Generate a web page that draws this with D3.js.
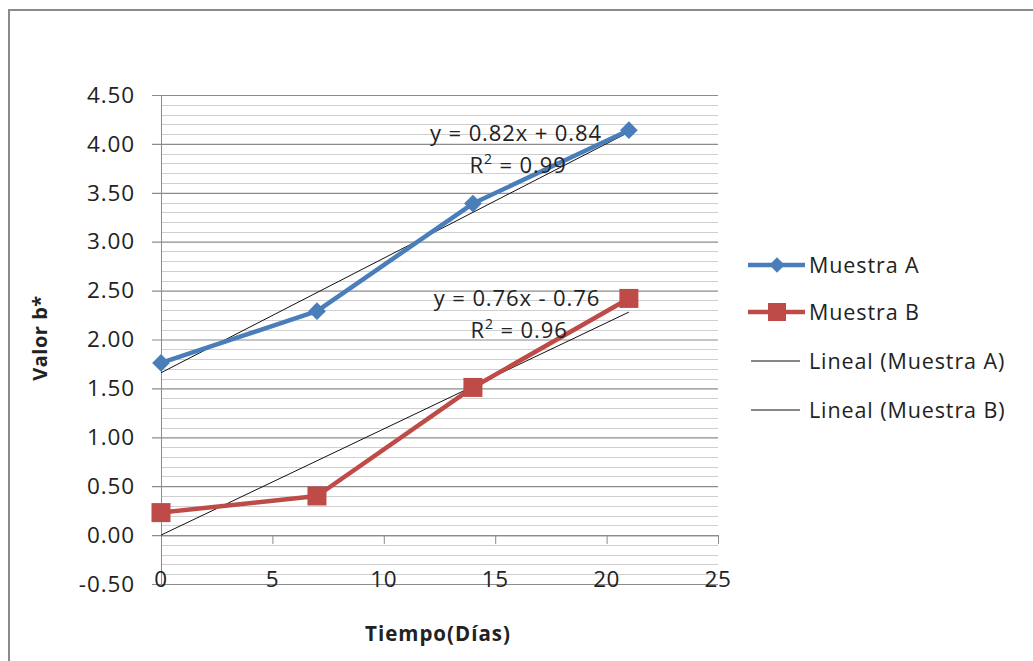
<!DOCTYPE html>
<html>
<head>
<meta charset="utf-8">
<script src="https://d3js.org/d3.v7.min.js"></script>
<style>
  body { margin: 0; background: #fff; }
  svg text { font-family: "Open Sans", "DejaVu Sans", sans-serif; fill: #222; }
</style>
</head>
<body>
<div id="chart"></div>
<script>
// data
const dias = [0, 7, 14, 21];
const muestraA = [1.76, 2.29, 3.39, 4.14];
const muestraB = [0.23, 0.40, 1.51, 2.42];
// trendline ends (x = 0 and x = 21), from the printed equations
const trendX = [0, 21];
const trendA = [1.66, 4.12];
const trendB = [0.00, 2.28];
const yTicks = [-0.5, 0, 0.5, 1, 1.5, 2, 2.5, 3, 3.5, 4, 4.5];
const xTicks = [0, 5, 10, 15, 20, 25];
const eqA = ["y = 0.82x + 0.84", "0.99"];
const eqB = ["y = 0.76x - 0.76", "0.96"];
const legendNames = ["Muestra A", "Muestra B", "Lineal (Muestra A)", "Lineal (Muestra B)"];

const W = 1033, H = 661;
const blue = "#4a7ebb", red = "#be4b48";

const svg = d3.select("#chart").append("svg")
  .attr("width", W).attr("height", H);

// outer chart frame (runs off the right and bottom)
svg.append("rect")
  .attr("x", 9).attr("y", 10)
  .attr("width", W + 20).attr("height", H + 20)
  .attr("fill", "none").attr("stroke", "#8a8a8a").attr("stroke-width", 2);

const x = d3.scaleLinear().domain([0, 25]).range([161, 718]);
const y = d3.scaleLinear().domain([-0.5, 4.5]).range([584, 95]);

// minor gridlines every 0.1
const minor = d3.range(-0.5, 4.5001, 0.1).map(v => +v.toFixed(2))
  .filter(v => !yTicks.some(t => Math.abs(t - v) < 1e-6));
svg.append("g").selectAll("line").data(minor).join("line")
  .attr("x1", x(0)).attr("x2", x(25))
  .attr("y1", d => Math.round(y(d)) + 0.5).attr("y2", d => Math.round(y(d)) + 0.5)
  .attr("stroke", "#cfcfcf").attr("stroke-width", 1.2);

// y axis with major gridlines
const yAxis = svg.append("g")
  .attr("transform", `translate(${x(0)},0)`)
  .call(d3.axisLeft(y).tickValues(yTicks).tickFormat(d3.format(".2f"))
    .tickSizeInner(-(x(25) - x(0))).tickSizeOuter(0).tickPadding(26));
yAxis.select(".domain").attr("stroke", "#8c8c8c");
yAxis.selectAll(".tick line").attr("stroke", "#8c8c8c").attr("stroke-width", 1.2)
  .attr("x1", -9);
yAxis.selectAll(".tick text")
  .style("font-size", "22.5px").attr("fill", "#222").style("letter-spacing", "0.9px")
  .text(d => d.toFixed(2).replace("-0.00", "0.00"));

// x axis sits at y = 0, labels at the bottom
const xAxis = svg.append("g")
  .attr("transform", `translate(0,${y(0)})`)
  .call(d3.axisBottom(x).tickValues(xTicks).tickSizeInner(9).tickSizeOuter(0).tickFormat(""));
xAxis.select(".domain").attr("stroke", "#8c8c8c").attr("stroke-width", 1.2);
xAxis.selectAll(".tick line").attr("stroke", "#8c8c8c");

svg.append("g").selectAll("text").data(xTicks).join("text")
  .attr("x", d => x(d)).attr("y", 587)
  .attr("text-anchor", "middle")
  .style("font-size", "22.5px").style("letter-spacing", "0.6px")
  .text(d => d);

// trendlines
const tLine = d3.line().x((d, i) => x(trendX[i])).y(d => y(d));
[trendA, trendB].forEach(t => {
  svg.append("path").datum(t).attr("d", tLine)
    .attr("fill", "none").attr("stroke", "#111").attr("stroke-width", 1);
});

// series
const sLine = d3.line().x((d, i) => x(dias[i])).y(d => y(d));
svg.append("path").datum(muestraA).attr("d", sLine)
  .attr("fill", "none").attr("stroke", blue).attr("stroke-width", 4.5)
  .attr("stroke-linejoin", "round");
svg.append("path").datum(muestraB).attr("d", sLine)
  .attr("fill", "none").attr("stroke", red).attr("stroke-width", 4.5)
  .attr("stroke-linejoin", "round");

const diamond = d3.symbol().type(d3.symbolDiamond2).size(200);
svg.append("g").selectAll("path").data(muestraA).join("path")
  .attr("d", diamond)
  .attr("transform", (d, i) => `translate(${x(dias[i])},${y(d)})`)
  .attr("fill", blue);
svg.append("g").selectAll("rect").data(muestraB).join("rect")
  .attr("x", (d, i) => x(dias[i]) - 9.5).attr("y", d => y(d) - 9.5)
  .attr("width", 19).attr("height", 19).attr("fill", red);

// trendline equations
function eq(lines, cx, cy) {
  svg.append("text").attr("x", cx).attr("y", cy).attr("text-anchor", "middle")
    .style("font-size", "22px").style("letter-spacing", "0.9px").text(lines[0]);
  const r = svg.append("text").attr("x", cx + 2).attr("y", cy + 32).attr("text-anchor", "middle")
    .style("font-size", "22px").style("letter-spacing", "0.9px");
  r.append("tspan").text("R");
  r.append("tspan").attr("dy", -9).style("font-size", "14px").text("2");
  r.append("tspan").attr("dy", 9).text(" = " + lines[1]);
}
eq(eqA, 516, 141);
eq(eqB, 517, 306);

// legend
const lg = svg.append("g");
const rows = [265, 312, 361, 410];
legendNames.forEach((name, i) => {
  const ry = rows[i];
  if (i < 2) {
    lg.append("line").attr("x1", 748).attr("x2", 805).attr("y1", ry).attr("y2", ry)
      .attr("stroke", i === 0 ? blue : red).attr("stroke-width", 4.5);
    if (i === 0) {
      lg.append("path").attr("d", d3.symbol().type(d3.symbolDiamond2).size(150))
        .attr("transform", `translate(777,${ry})`).attr("fill", blue);
    } else {
      lg.append("rect").attr("x", 768).attr("y", ry - 9).attr("width", 18).attr("height", 18)
        .attr("fill", red);
    }
  } else {
    lg.append("line").attr("x1", 751).attr("x2", 800).attr("y1", ry).attr("y2", ry)
      .attr("stroke", "#111").attr("stroke-width", 1);
  }
  lg.append("text").attr("x", 809).attr("y", ry + 8)
    .style("font-size", "21.5px").style("letter-spacing", "0.9px").text(name);
});

// axis titles
svg.append("text")
  .attr("transform", "translate(47,338) rotate(-90)")
  .attr("text-anchor", "middle")
  .style("font-size", "20px").style("font-weight", "bold").style("letter-spacing", "0.5px")
  .attr("fill", "#111").text("Valor b*");
svg.append("text")
  .attr("x", 438).attr("y", 641)
  .attr("text-anchor", "middle")
  .style("font-size", "20.5px").style("font-weight", "bold").style("letter-spacing", "1px")
  .attr("fill", "#111").text("Tiempo(Días)");
</script>
</body>
</html>
